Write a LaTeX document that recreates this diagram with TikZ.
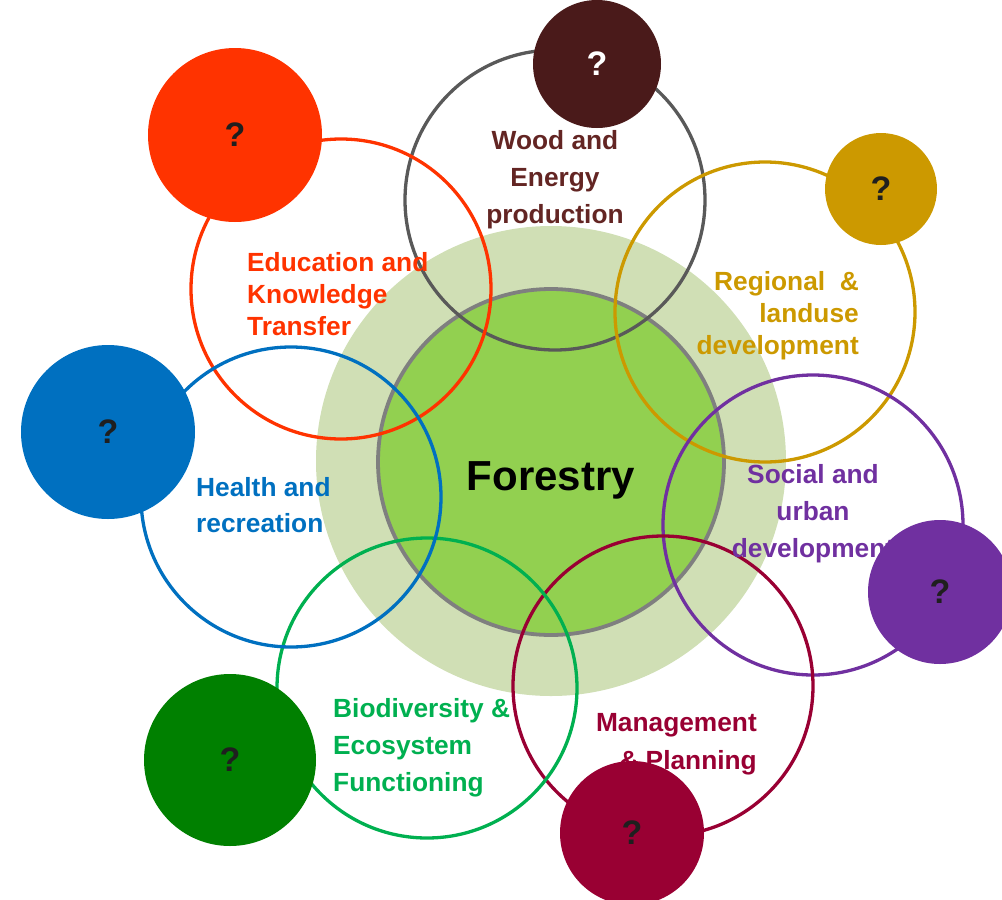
\documentclass[tikz,border=0pt]{standalone}
\usepackage{fontspec}
\setmainfont{Liberation Sans}
\definecolor{outergreen}{HTML}{D0DFB5}
\definecolor{innergreen}{HTML}{92D050}
\definecolor{innerborder}{HTML}{7F7F7F}
\definecolor{woodring}{HTML}{595959}
\definecolor{wooddot}{HTML}{4A1A1A}
\definecolor{woodtext}{HTML}{632523}
\definecolor{edu}{HTML}{FF3300}
\definecolor{reg}{HTML}{CC9900}
\definecolor{soc}{HTML}{7030A0}
\definecolor{man}{HTML}{990033}
\definecolor{bioring}{HTML}{00B050}
\definecolor{biodot}{HTML}{008000}
\definecolor{hea}{HTML}{0070C0}
\definecolor{qmark}{HTML}{1F1F1F}
\begin{document}
\begin{tikzpicture}[x=1pt,y=-1pt,
  ring/.style={circle, draw=#1, line width=3.3pt, minimum size=300pt, inner sep=0pt, outer sep=0pt},
  dot/.style={circle, fill=#1, inner sep=0pt, outer sep=0pt, text=qmark, font=\fontsize{34}{34}\selectfont\bfseries},
  lbl/.style={inner sep=0pt, text=#1, font=\fontsize{26.3}{32}\selectfont\bfseries}
]
\useasboundingbox (0,0) rectangle (1002,900);
% central circles
\node[circle, fill=outergreen, minimum size=470pt, inner sep=0pt] (outer) at (551,461) {};
\node[circle, fill=innergreen, draw=innerborder, line width=3.8pt, minimum size=346pt, inner sep=0pt] (inner) at (551,462) {};
% rings
\node[ring=woodring] (woodR) at (555,200) {};
\node[ring=edu] (eduR) at (341,289) {};
\node[ring=reg] (regR) at (765,312) {};
\node[ring=soc] (socR) at (813,525) {};
\node[ring=man] (manR) at (663,686) {};
\node[ring=bioring] (bioR) at (427,688) {};
\node[ring=hea] (heaR) at (291,497) {};
% labels
\node[inner sep=0pt, font=\fontsize{42}{42}\selectfont\bfseries] (forestry) at (551,480) {Forestry};
\node[lbl=woodtext, align=center, font=\fontsize{26.3}{37}\selectfont\bfseries] (woodT) at (555,180) {Wood and\\Energy\\production};
\node[lbl=edu, align=left, anchor=west] (eduT) at (247,294) {Education and\\Knowledge\\Transfer};
\node[lbl=reg, align=right, anchor=east] (regT) at (859,316) {Regional\ \ \&\\landuse\\development};
\node[lbl=soc, align=center, font=\fontsize{26.3}{37}\selectfont\bfseries] (socT) at (813,514) {Social and\\urban\\development};
\node[lbl=hea, align=left, anchor=west, font=\fontsize{26.3}{36}\selectfont\bfseries] (heaT) at (196,505) {Health and\\recreation};
\node[lbl=bioring, align=left, anchor=west, font=\fontsize{26.3}{37}\selectfont\bfseries] (bioT) at (333,748) {Biodiversity \&\\Ecosystem\\Functioning};
% dots
\node[dot=wooddot, minimum size=128pt, text=white] (woodD) at (597,64) {?};
\node[dot=edu, minimum size=174pt] (eduD) at (235,135) {?};
\node[dot=reg, minimum size=112pt] (regD) at (881,189) {?};
\node[dot=soc, minimum size=144pt] (socD) at (940,592) {?};
\node[dot=man, minimum size=144pt] (manD) at (632,833) {?};
\node[dot=biodot, minimum size=172pt] (bioD) at (230,760) {?};
\node[dot=hea, minimum size=174pt] (heaD) at (108,432) {?};
\node[lbl=man, align=right, anchor=east, font=\fontsize{26.3}{38}\selectfont\bfseries] (manT) at (757,744) {Management\\\&\ Planning};
\end{tikzpicture}
\end{document}
